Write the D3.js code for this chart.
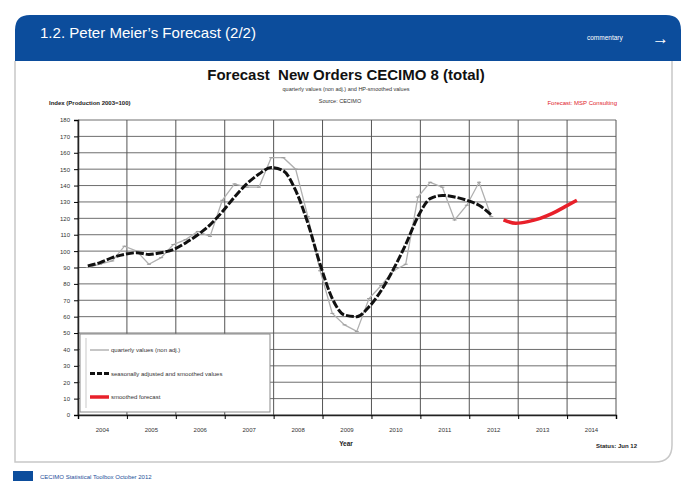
<!DOCTYPE html>
<html lang="en">
<head>
  <meta charset="UTF-8">
  <title>Forecast New Orders CECIMO 8</title>
  <style>
    body { margin: 0; background: #ffffff; }
    #chart { width: 682px; height: 481px; }
    text { font-family: "Liberation Sans", Arial, sans-serif; white-space: pre; }
  </style>
  <script src="https://d3js.org/d3.v7.min.js"></script>
</head>
<body>
<div id="chart"></div>
<script>
  // data
  var years = [2004, 2005, 2006, 2007, 2008, 2009, 2010, 2011, 2012, 2013, 2014];
  var yTicks = [0, 10, 20, 30, 40, 50, 60, 70, 80, 90, 100, 110, 120, 130, 140, 150, 160, 170, 180];

  // quarterly values (non adj.), 2004 Q1 .. 2012 Q2
  var quarterly = [90, 92, 94, 103, 100, 92, 96, 104, 107, 112, 109, 131,
                   141, 139, 139, 157, 157, 150, 121, 88, 62, 55, 51, 71,
                   79, 88, 92, 133, 142, 139, 119, 128, 142, 121];
  // seasonally adjusted and smoothed values, 2004 Q1 .. 2012 Q2
  var smoothed = [91, 93, 96, 98, 99, 98, 99, 101, 105, 110, 116, 124,
                  133, 141, 147, 151, 149, 137, 117, 92, 71, 61, 60, 66,
                  76, 89, 104, 121, 132, 134, 133, 131, 128, 122];
  // smoothed forecast, 2012 Q3 .. 2014 Q1
  var forecast = [119, 117, 118, 120, 123, 127, 131];
  var forecastStart = 34; // quarter index of first forecast value

  var legendItems = ["quarterly values (non adj.)", "seasonally adjusted and smoothed values", "smoothed forecast"];

  var W = 682, H = 481;
  var svg = d3.select("#chart").append("svg").attr("width", W).attr("height", H);

  // header band + panel
  svg.append("path")
    .attr("d", "M15,61 L15,30 Q15,15 30,15 L666,15 Q681,15 681,30 L681,61 Z")
    .attr("fill", "#0c4d9c");
  svg.append("path")
    .attr("d", "M15,61 L15,462 L655,462 Q672,462 672,445 L672,61")
    .attr("fill", "#ffffff").attr("stroke", "#c8c8c8").attr("stroke-width", 1.5);
  svg.append("text").attr("x", 40).attr("y", 38).attr("fill", "#ffffff")
    .attr("font-size", 14.5).attr("textLength", 216).attr("lengthAdjust", "spacingAndGlyphs")
    .text("1.2. Peter Meier\u2019s Forecast (2/2)");
  svg.append("text").attr("x", 587).attr("y", 40).attr("fill", "#ffffff")
    .attr("font-size", 6.5).text("commentary");
  svg.append("text").attr("x", 652).attr("y", 44).attr("fill", "#ffffff")
    .attr("font-size", 17).attr("font-weight", "bold").text("\u2192");

  // footer
  svg.append("rect").attr("x", 13).attr("y", 471).attr("width", 20).attr("height", 10).attr("fill", "#0c4d9c");
  svg.append("text").attr("x", 40).attr("y", 479).attr("fill", "#1d4f9a")
    .attr("font-size", 6).text("CECIMO Statistical Toolbox October 2012");

  // plot area
  var pLeft = 78, pRight = 616, pTop = 120, pBottom = 415;
  var x = d3.scaleLinear().domain([2004, 2015]).range([pLeft, pRight]);
  var y = d3.scaleLinear().domain([0, 180]).range([pBottom, pTop]);
  var qx = function(i) { return x(2004 + (i + 0.8) / 4); };

  // titles
  svg.append("text").attr("x", 346).attr("y", 80).attr("text-anchor", "middle")
    .attr("font-size", 15).attr("font-weight", "bold").attr("fill", "#111")
    .text("Forecast  New Orders CECIMO 8 (total)");
  svg.append("text").attr("x", 346).attr("y", 91).attr("text-anchor", "middle")
    .attr("font-size", 5.5).attr("fill", "#333")
    .text("quarterly values (non adj.) and HP-smoothed values");
  svg.append("text").attr("x", 340).attr("y", 103).attr("text-anchor", "middle")
    .attr("font-size", 5.5).attr("fill", "#333").text("Source: CECIMO");
  svg.append("text").attr("x", 49).attr("y", 105)
    .attr("font-size", 6).attr("font-weight", "bold").attr("fill", "#222")
    .text("Index (Production 2003=100)");
  svg.append("text").attr("x", 617).attr("y", 105).attr("text-anchor", "end")
    .attr("font-size", 6).attr("fill", "#e0202a").text("Forecast: MSP Consulting");

  // grid
  var grid = svg.append("g");
  grid.selectAll("line.h").data(yTicks).enter().append("line")
    .attr("x1", pLeft).attr("x2", pRight)
    .attr("y1", function(d) { return y(d); }).attr("y2", function(d) { return y(d); })
    .attr("stroke", "#6e6e6e").attr("stroke-width", 1);
  grid.selectAll("line.v").data(years.concat([2015])).enter().append("line")
    .attr("x1", function(d) { return x(d); }).attr("x2", function(d) { return x(d); })
    .attr("y1", pTop).attr("y2", pBottom)
    .attr("stroke", "#555").attr("stroke-width", 1);

  // axes
  var yAxis = d3.axisLeft(y).tickValues(yTicks).tickSize(4).tickPadding(4);
  var gy = svg.append("g").attr("transform", "translate(" + pLeft + ",0)").call(yAxis);
  gy.selectAll("text").attr("font-size", 6).attr("fill", "#333");
  gy.select(".domain").attr("stroke", "#222").attr("stroke-width", 1.5);

  var xAxis = d3.axisBottom(x).tickValues(years.concat([2015])).tickSize(4).tickFormat("");
  var gx = svg.append("g").attr("transform", "translate(0," + pBottom + ")").call(xAxis);
  gx.select(".domain").attr("stroke", "#222").attr("stroke-width", 1.5);
  svg.append("g").selectAll("text").data(years).enter().append("text")
    .attr("x", function(d) { return x(d + 0.5); }).attr("y", 432)
    .attr("text-anchor", "middle").attr("font-size", 6).attr("fill", "#333")
    .text(function(d) { return d; });

  svg.append("text").attr("x", 346).attr("y", 446).attr("text-anchor", "middle")
    .attr("font-size", 6.5).attr("font-weight", "bold").attr("fill", "#222").text("Year");
  svg.append("text").attr("x", 637).attr("y", 448).attr("text-anchor", "end")
    .attr("font-size", 6).attr("font-weight", "bold").attr("fill", "#222").text("Status: Jun 12");

  // series
  var line = d3.line().x(function(d) { return qx(d.i); }).y(function(d) { return y(d.v); });
  var q = quarterly.map(function(v, i) { return { i: i, v: v }; });
  var s = smoothed.map(function(v, i) { return { i: i, v: v }; });
  var f = forecast.map(function(v, i) { return { i: i + forecastStart, v: v }; });

  svg.append("path").datum(q).attr("d", line).attr("fill", "none")
    .attr("stroke", "#b0b0b0").attr("stroke-width", 1.3);
  svg.append("g").selectAll("line").data(q).enter().append("line")
    .attr("x1", function(d) { return qx(d.i) - 2; }).attr("x2", function(d) { return qx(d.i) + 2; })
    .attr("y1", function(d) { return y(d.v); }).attr("y2", function(d) { return y(d.v); })
    .attr("stroke", "#9a9a9a").attr("stroke-width", 1);
  svg.append("path").datum(s).attr("d", line.curve(d3.curveMonotoneX)).attr("fill", "none")
    .attr("stroke", "#111").attr("stroke-width", 3).attr("stroke-dasharray", "8,2");
  svg.append("path").datum(f).attr("d", line.curve(d3.curveMonotoneX)).attr("fill", "none")
    .attr("stroke", "#e8202a").attr("stroke-width", 3.5);

  // legend
  var lg = svg.append("g");
  lg.append("rect").attr("x", 80).attr("y", 334).attr("width", 190).attr("height", 78)
    .attr("fill", "#ffffff").attr("stroke", "#8a8a8a").attr("stroke-width", 1);
  lg.append("line").attr("x1", 86).attr("x2", 86).attr("y1", 338).attr("y2", 408)
    .attr("stroke", "#bbb").attr("stroke-width", 0.8);
  var lStyles = [
    { stroke: "#a8a8a8", w: 1.3, dash: null },
    { stroke: "#111", w: 3, dash: "5,2" },
    { stroke: "#e8202a", w: 3.5, dash: null }
  ];
  var items = lg.selectAll("g.item").data(legendItems).enter().append("g")
    .attr("transform", function(d, i) { return "translate(0," + (350 + i * 23.5) + ")"; });
  items.append("line").attr("x1", 90).attr("x2", 109).attr("y1", 0).attr("y2", 0)
    .attr("stroke", function(d, i) { return lStyles[i].stroke; })
    .attr("stroke-width", function(d, i) { return lStyles[i].w; })
    .attr("stroke-dasharray", function(d, i) { return lStyles[i].dash; });
  items.append("text").attr("x", 111).attr("y", 2).attr("font-size", 6).attr("fill", "#333")
    .text(function(d) { return d; });
</script>
</body>
</html>
